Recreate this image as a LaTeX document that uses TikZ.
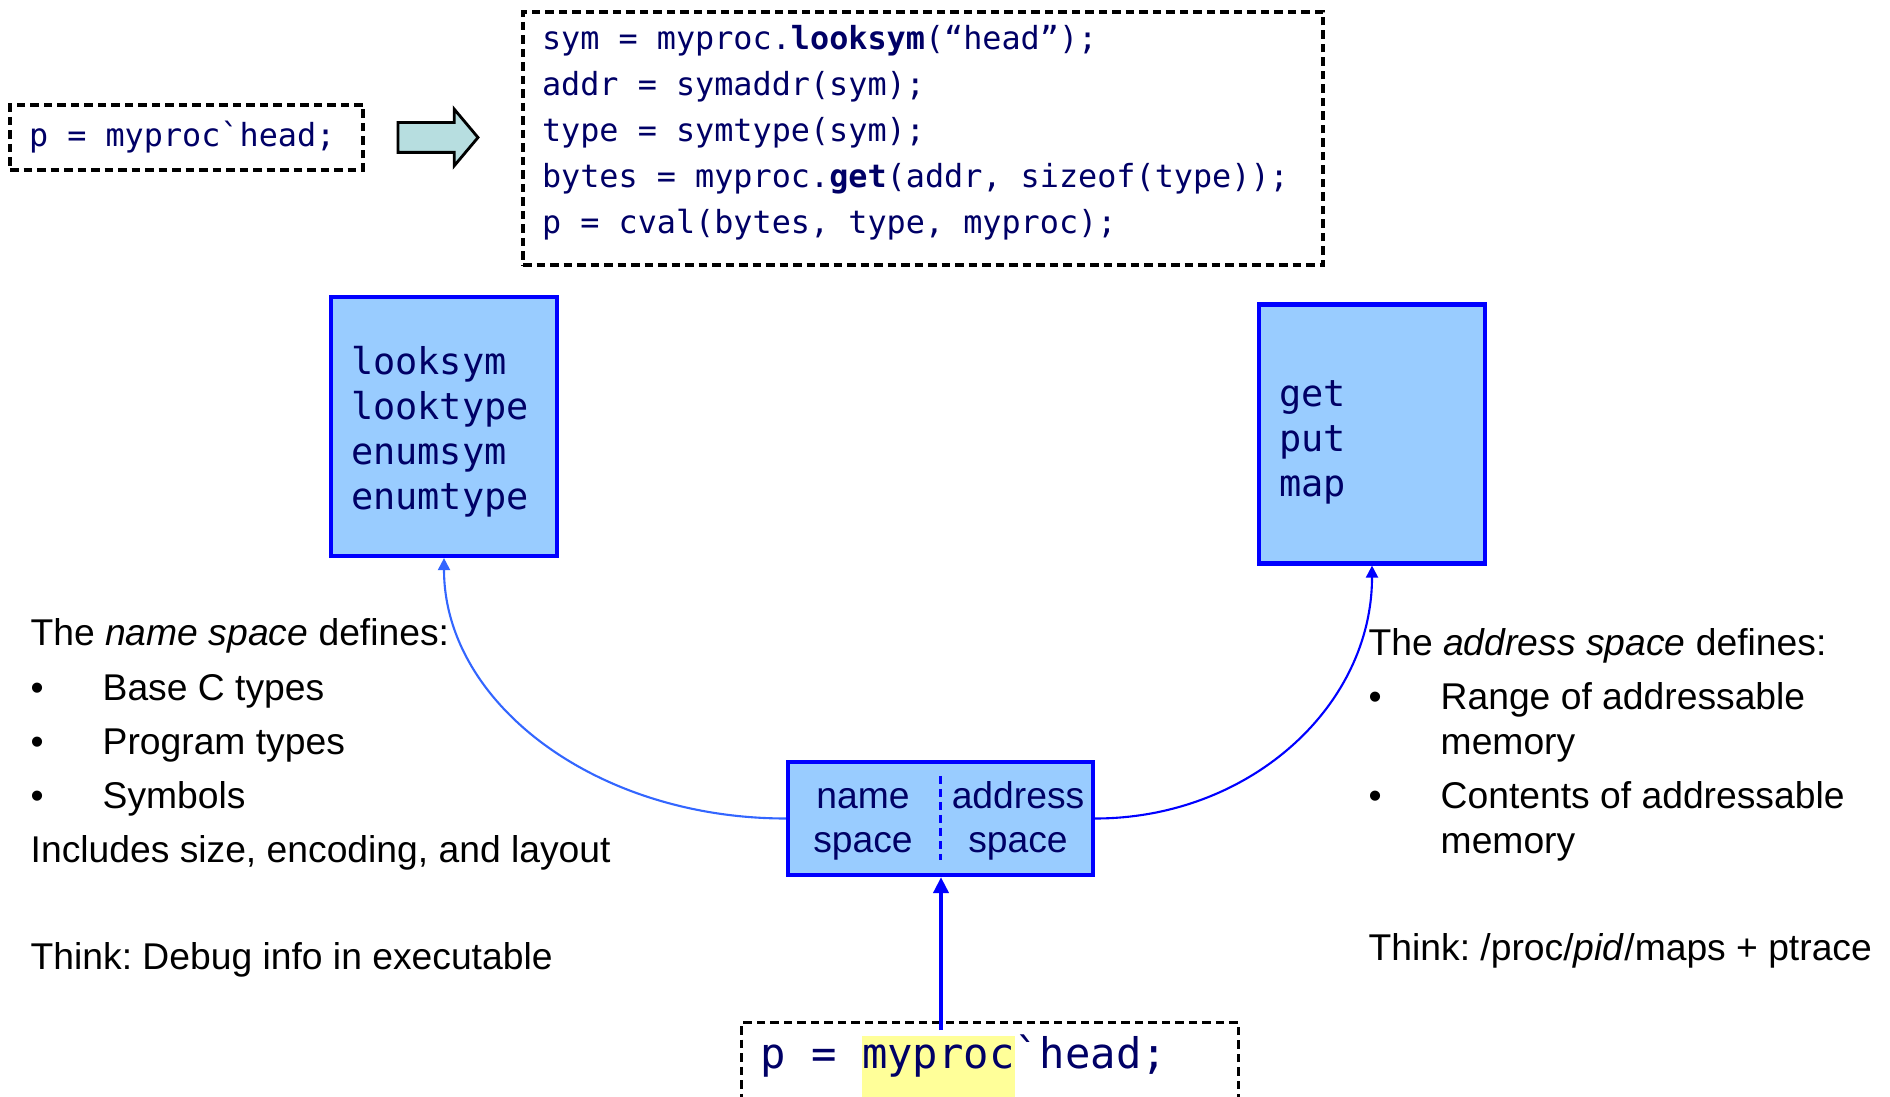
\documentclass[tikz,border=0pt]{standalone}
\usepackage{fontspec}
\setmainfont{Liberation Sans}
\setmonofont{DejaVu Sans Mono}
\usetikzlibrary{positioning,shapes.arrows,arrows.meta}

\definecolor{navy}{RGB}{0,0,102}
\definecolor{boxfill}{RGB}{153,204,255}
\definecolor{boxline}{RGB}{0,0,255}
\definecolor{curveblue}{RGB}{51,102,255}
\definecolor{arrowfill}{RGB}{183,222,224}
\definecolor{hlyellow}{RGB}{255,255,153}

\newcommand{\codesmall}{\ttfamily\fontsize{9.05}{13.1}\selectfont}
\newcommand{\codemid}{\ttfamily\fontsize{10.5}{12.8}\selectfont}
\newcommand{\codebig}{\ttfamily\fontsize{12}{14}\selectfont}
\newcommand{\notefont}{\fontsize{10.6}{12.7}\selectfont}
\newcommand{\spacefont}{\fontsize{10.6}{12.5}\selectfont}
% one character cell of blank in the code font
\newcommand{\gap}{\hphantom{x}}
\setlength{\fboxsep}{0pt}
\frenchspacing

\begin{document}
\begin{tikzpicture}[x=0.1mm, y=-0.1mm, node distance=3.2mm,
    dashbox/.style = {draw, line width=0.9pt, dash pattern=on 0.85mm off 0.5mm, inner ysep=0pt, inner xsep=1.9mm, text=navy},
    bluebox/.style = {draw=boxline, fill=boxfill, line width=1.2pt},
    opsbox/.style = {bluebox, minimum width=22.6mm, minimum height=25.9mm, inner xsep=2mm, text width=18.6mm, align=left, text=navy, font=\codemid},
    spacelabel/.style = {inner sep=0pt, align=center, text=navy, font=\spacefont},
    notes/.style = {anchor=base west, inner sep=0pt, font=\notefont},
    link/.style = {line width=0.6pt, -{Triangle[length=1.2mm,width=1.2mm]}}]
\useasboundingbox (0,0) rectangle (1890,1097);
\clip (0,0) rectangle (1890,1097);

% the expression and what it turns into
\node[dashbox, minimum width=35.3mm, minimum height=6.5mm, text width=31.5mm, font=\codesmall] (expr) at (186.5,137.5) {p\gap=\gap myproc`head;};
\node[single arrow, draw, fill=arrowfill, line width=0.8pt, minimum height=8mm, text height=1.35mm, text depth=1.35mm,
      single arrow head extend=1.35mm, single arrow tip angle=100, inner sep=0pt] (turns) [right=of expr] {};
\node[dashbox, minimum width=80mm, minimum height=25.3mm, text width=76.2mm, font=\codesmall] (lookup) at (923,138.5)
  {sym\gap=\gap myproc.\textbf{looksym}(“head”);\\
   addr\gap=\gap symaddr(sym);\\
   type\gap=\gap symtype(sym);\\
   bytes\gap=\gap myproc.\textbf{get}(addr,\gap sizeof(type));\\
   p\gap=\gap cval(bytes,\gap type,\gap myproc);\rule[-1.76mm]{0pt}{0pt}};

% operations
\node[opsbox] (ns) at (444,426.5) {\rule{0pt}{3.8mm}looksym\\looktype\\enumsym\\enumtype};
\node[opsbox] (as) at (1372,434) {\rule{0pt}{4.3mm}get\\put\\map};

% the process handle
\node[bluebox, minimum width=30.5mm, minimum height=11.3mm] (mem) at (940.5,818.5) {};
\node[spacelabel] (nsl) at (863,821) {\vphantom{d}name\\space};
\node[spacelabel] (asl) at (1018,821) {address\\space};
\draw[boxline, line width=0.6pt, dash pattern=on 0.8mm off 0.5mm] ([yshift=-1.6mm]mem.north) -- ([yshift=1.7mm]mem.south);

\draw[link, curveblue] (mem.west) .. controls +(-190,0) and +(0,145) .. (ns.south);
\draw[link, boxline] (mem.east) .. controls +(154,0) and +(0,141) .. (as.south);

% the query
\node[dashbox, anchor=north west, minimum width=49.7mm, text width=45.9mm, text height=4.6mm, text depth=5mm, font=\codebig] (query) at (740,1021)
  {p\gap=\gap\colorbox{hlyellow}{\rule[-3mm]{0pt}{6.3mm}myproc}`head;};
\coordinate (hl) at (941,1030);
\draw[boxline, line width=1.1pt, -{Triangle[length=1.6mm,width=1.5mm]}] (hl) -- (hl |- mem.south);

% notes
\node[notes] (nsnotes) at (30,646) {\begin{tabular}[t]{@{}p{7.2mm}@{}l@{}}
  \multicolumn{2}{@{}l@{}}{The \emph{name space} defines:}\\[2.7pt]
  \textbullet & Base C types\\[2.7pt]
  \textbullet & Program types\\[2.7pt]
  \textbullet & Symbols\\[2.7pt]
  \multicolumn{2}{@{}l@{}}{Includes size, encoding, and layout}\\[17.7pt]
  \multicolumn{2}{@{}l@{}}{Think: Debug info in executable}
\end{tabular}};
\node[notes] (asnotes) at (1368,655) {\begin{tabular}[t]{@{}p{7.2mm}@{}l@{}}
  \multicolumn{2}{@{}l@{}}{The \emph{address space} defines:}\\[2.9pt]
  \textbullet & Range of addressable\\
              & memory\\[2.7pt]
  \textbullet & Contents of addressable\\
              & memory\\[17.7pt]
  \multicolumn{2}{@{}l@{}}{Think: /proc/\emph{pid}/maps + ptrace}
\end{tabular}};
\end{tikzpicture}
\end{document}
